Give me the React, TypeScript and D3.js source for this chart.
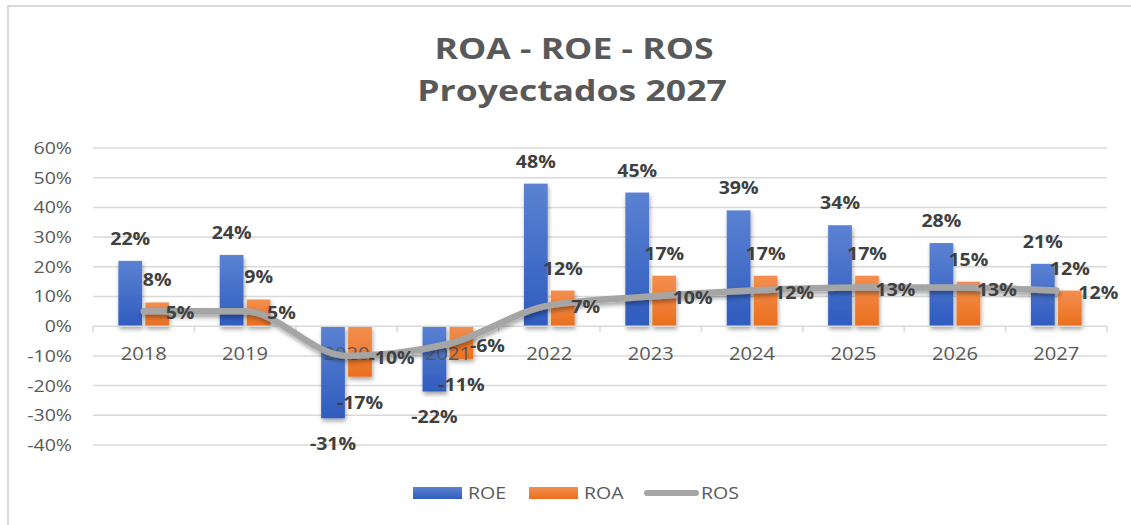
import React, { useEffect, useRef } from "react";
import * as d3 from "d3";

// chart data
const years = ["2018", "2019", "2020", "2021", "2022", "2023", "2024", "2025", "2026", "2027"];
const roe = [22, 24, -31, -22, 48, 45, 39, 34, 28, 21];
const roa = [8, 9, -17, -11, 12, 17, 17, 17, 15, 12];
const ros = [5, 5, -10, -6, 7, 10, 12, 13, 13, 12];
const yTicks = [-40, -30, -20, -10, 0, 10, 20, 30, 40, 50, 60];
const seriesNames = ["ROE", "ROA", "ROS"];

const W = 1131;
const H = 525;
const FONT = "'Open Sans', sans-serif";
const SX = 1.15; // the source text is a bit wider than Open Sans

function App() {
  const ref = useRef<SVGSVGElement>(null);

  useEffect(() => {
    const svg = d3.select(ref.current);
    svg.selectAll("*").remove();

    const left = 93, right = 1107, top = 148, bottom = 445;

    const defs = svg.append("defs");
    const grad = (id: string, c1: string, c2: string) => {
      const g = defs.append("linearGradient").attr("id", id).attr("x1", 0).attr("y1", 0).attr("x2", 0).attr("y2", 1);
      g.append("stop").attr("offset", "0%").attr("stop-color", c1);
      g.append("stop").attr("offset", "100%").attr("stop-color", c2);
    };
    grad("gBlue", "#5b82d2", "#2f5cbf");
    grad("gOrange", "#f38f50", "#ea6f1d");
    const f = defs.append("filter").attr("id", "shadow").attr("x", "-30%").attr("y", "-30%").attr("width", "160%").attr("height", "160%");
    f.append("feDropShadow").attr("dx", 1).attr("dy", 3).attr("stdDeviation", 2).attr("flood-color", "#000").attr("flood-opacity", 0.35);

    // outer frame
    svg.append("rect").attr("x", 8).attr("y", 6).attr("width", W + 20).attr("height", H + 20)
      .attr("fill", "#fff").attr("stroke", "#d9d9d9").attr("stroke-width", 2);

    // title
    const tg = svg.append("g").attr("font-family", FONT).attr("font-weight", 700).attr("font-size", 28)
      .attr("fill", "#595959").attr("text-anchor", "middle");
    tg.append("text").attr("transform", "translate(574,59) scale(1.27,1)").text("ROA - ROE - ROS");
    tg.append("text").attr("transform", "translate(572,101) scale(1.27,1)").text("Proyectados 2027");

    const x = d3.scaleBand().domain(years).range([left, right]).paddingInner(0.5).paddingOuter(0.25);
    const xs = d3.scaleBand().domain(["ROE", "ROA"]).range([0, x.bandwidth()]).paddingInner(0.12);
    const y = d3.scaleLinear().domain([-40, 60]).range([bottom, top]);
    const step = x.step();
    const pos = (px: number, py: number) => `translate(${px},${py}) scale(${SX},1)`;

    // gridlines
    svg.append("g").selectAll("line").data(yTicks.filter(t => t !== 0)).join("line")
      .attr("x1", left).attr("x2", right).attr("y1", d => y(d)).attr("y2", d => y(d))
      .attr("stroke", "#d9d9d9").attr("stroke-width", 1.5);

    // y axis labels
    svg.append("g").selectAll("text").data(yTicks).join("text")
      .attr("transform", d => pos(72, y(d))).attr("dy", "0.35em").attr("text-anchor", "end")
      .attr("font-family", FONT).attr("font-size", 17).attr("fill", "#595959")
      .text(d => d + "%");

    // bars
    const barG = svg.append("g").attr("filter", "url(#shadow)");
    const series = [
      { key: "ROE", vals: roe, fill: "url(#gBlue)" },
      { key: "ROA", vals: roa, fill: "url(#gOrange)" },
    ];
    series.forEach(s => {
      barG.append("g").selectAll("rect").data(s.vals).join("rect")
        .attr("x", (d, i) => (x(years[i]) as number) + (xs(s.key) as number))
        .attr("width", xs.bandwidth())
        .attr("y", d => y(Math.max(0, d)))
        .attr("height", d => Math.abs(y(d) - y(0)))
        .attr("fill", s.fill);
    });

    // zero axis with ticks
    const axisG = svg.append("g").attr("stroke", "#d9d9d9").attr("stroke-width", 1.5);
    axisG.append("line").attr("x1", left).attr("x2", right).attr("y1", y(0)).attr("y2", y(0));
    axisG.selectAll("line.tk").data(d3.range(years.length + 1)).join("line").attr("class", "tk")
      .attr("x1", i => left + i * step).attr("x2", i => left + i * step)
      .attr("y1", y(0)).attr("y2", y(0) + 6);

    // year labels
    svg.append("g").selectAll("text").data(years).join("text")
      .attr("transform", d => pos((x(d) as number) + x.bandwidth() / 2, y(0) + 28)).attr("dy", "0.35em")
      .attr("text-anchor", "middle").attr("font-family", FONT).attr("font-size", 17.5).attr("fill", "#595959")
      .text(d => d);

    // ROS line
    const cx = (i: number) => (x(years[i]) as number) + x.bandwidth() / 2;
    const line = d3.line<number>().x((d, i) => cx(i)).y(d => y(d)).curve(d3.curveMonotoneX);
    svg.append("path").datum(ros).attr("d", line).attr("fill", "none").attr("stroke", "#a5a5a5")
      .attr("stroke-width", 6.5).attr("stroke-linecap", "round").attr("stroke-linejoin", "round")
      .attr("filter", "url(#shadow)");

    // data labels
    const lblG = svg.append("g").attr("font-family", FONT).attr("font-weight", 700).attr("font-size", 17)
      .attr("fill", "#404040");
    series.forEach(s => {
      lblG.append("g").selectAll("text").data(s.vals).join("text")
        .attr("transform", (d, i) => pos((x(years[i]) as number) + (xs(s.key) as number) + xs.bandwidth() / 2,
          d >= 0 ? y(d) - 22 : y(d) + 26))
        .attr("dy", "0.35em").attr("text-anchor", "middle")
        .text(d => d + "%");
    });
    lblG.append("g").selectAll("text").data(ros).join("text")
      .attr("transform", (d, i) => pos(cx(i) + 22, y(d) + 2)).attr("dy", "0.35em")
      .text(d => d + "%");

    // legend
    const lg = svg.append("g").attr("font-family", FONT).attr("font-size", 17).attr("fill", "#595959");
    const legendX = [413, 529, 644];
    seriesNames.forEach((name, i) => {
      const g = lg.append("g").attr("transform", `translate(${legendX[i]},493)`);
      if (i < 2) {
        g.append("rect").attr("x", 0).attr("y", -6).attr("width", 49).attr("height", 12)
          .attr("fill", i === 0 ? "url(#gBlue)" : "url(#gOrange)");
      } else {
        g.append("line").attr("x1", 3).attr("x2", 52).attr("y1", 0).attr("y2", 0)
          .attr("stroke", "#a5a5a5").attr("stroke-width", 6).attr("stroke-linecap", "round");
      }
      g.append("text").attr("transform", pos(i < 2 ? 55 : 57, 0)).attr("dy", "0.35em").text(name);
    });
  }, []);

  return (
    <div style={{ position: "absolute", left: 0, top: 0 }}>
      <svg ref={ref} width={W} height={H} style={{ display: "block" }} />
    </div>
  );
}

export default App;
